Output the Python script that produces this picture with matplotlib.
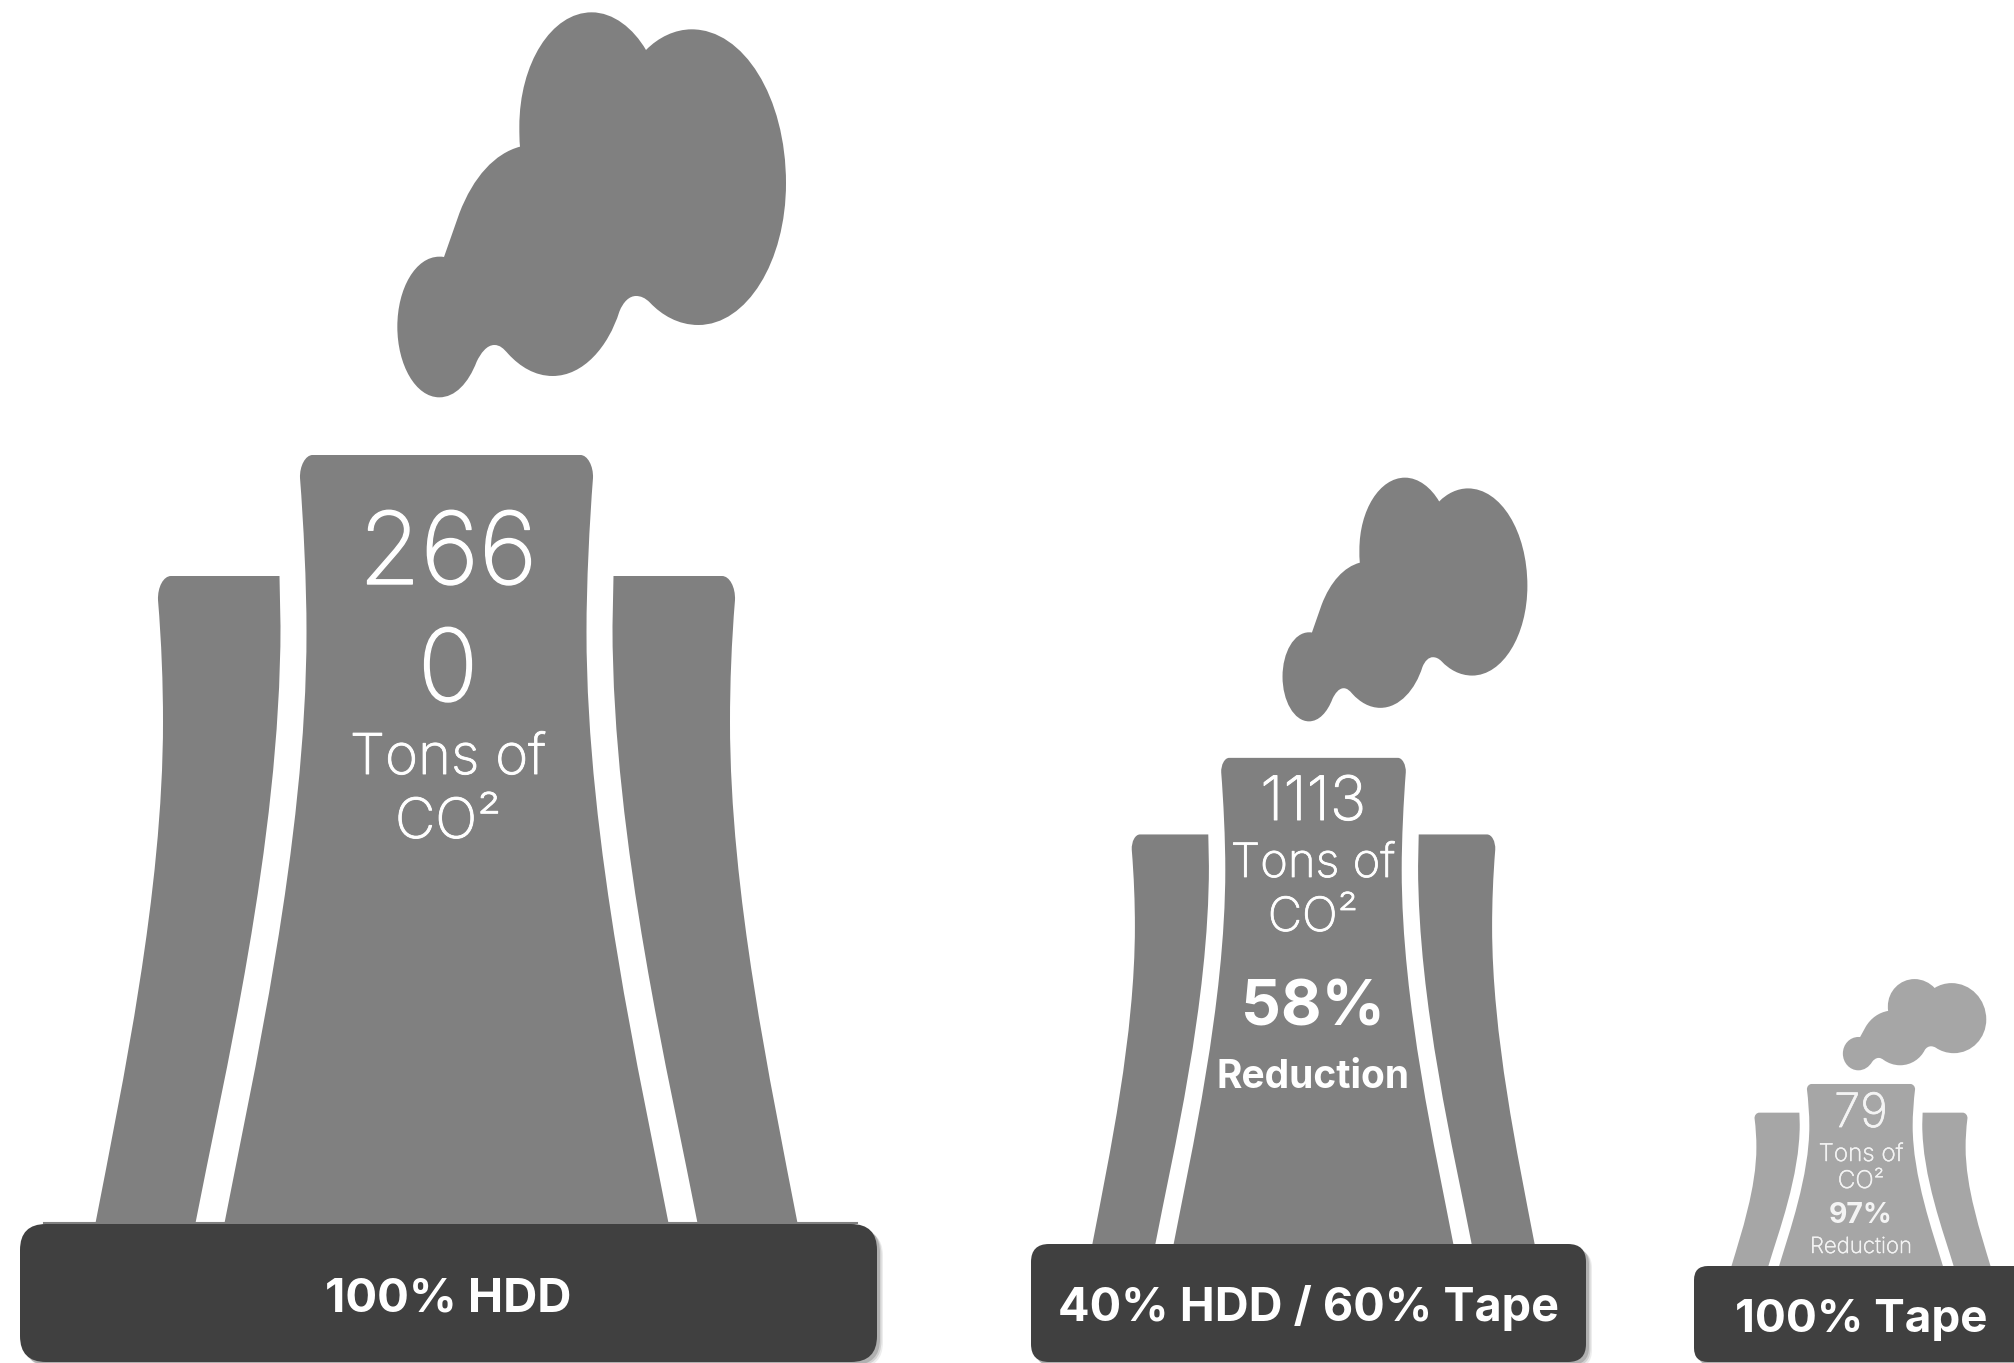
import matplotlib
matplotlib.use('Agg')
import matplotlib.pyplot as plt
import matplotlib.patheffects as pe
from matplotlib.path import Path
from matplotlib.patches import PathPatch, FancyBboxPatch

plt.rcParams['font.family'] = ['Inter', 'DejaVu Sans']

# data
scenarios = ['100% HDD', '40% HDD / 60% Tape', '100% Tape']
co2_tons = ['266\n0', '1113', '79']
reductions = [None, '58%', '97%']

# icon placement: centre x, ground y, x scale, y scale
centers = [446.5, 1313.5, 1861]
grounds = [1223, 1244, 1266]
x_scales = [1.0, 0.63, 0.369]
y_scales = [1.0, 0.633, 0.237]
tower_colors = ['#808080', '#808080', '#a6a6a6']
text_colors = ['white', 'white', '#f4f4f4']

# base plates: left, right, top, corner radius
plates = [(20, 877, 1224, 26), (1031, 1586, 1244, 18), (1694, 2060, 1266, 14)]
plate_bottom = 1362
plate_color = '#404040'

# tower outlines, half widths and heights above the ground
C = Path.CURVE4
middle_half = [(-134, 768), (-141, 768), (-147, 757), (-146.5, 745),
               (-143, 700), (-140, 640), (-140, 591),
               (-140, 380), (-195, 140), (-222, 0),
               (222, 0), (195, 140), (140, 380), (140, 591),
               (140, 640), (143, 700), (146.5, 745),
               (147, 757), (141, 768), (134, 768), (-134, 768)]
middle_codes = [Path.MOVETO] + [C] * 9 + [Path.LINETO] + [C] * 9 + [Path.LINETO]

wing = [(167, 647), (275.5, 647), (283, 647), (289, 636), (288.5, 623),
        (285, 580), (283.5, 540), (283.5, 501),
        (283.5, 330), (324, 140), (351, 0),
        (251, 0), (224, 140), (166, 380), (166, 597), (167, 647)]
wing_codes = [Path.MOVETO, Path.LINETO] + [C] * 9 + [Path.LINETO] + [C] * 3 + [Path.LINETO]

# smoke outline, relative to the top left of its box
smoke_start = (828, 150)
smoke_curves = [(865, 112), (915, 88), (965, 88),
                (1120, 88), (1248, 290), (1248, 550),
                (1248, 785), (1130, 975), (985, 975),
                (925, 975), (875, 945), (840, 908),
                (825, 893), (812, 888), (798, 888),
                (778, 888), (760, 905), (748, 935),
                (715, 1040), (640, 1128), (548, 1128),
                (495, 1128), (450, 1100), (415, 1062),
                (400, 1045), (390, 1035), (373, 1035),
                (350, 1035), (332, 1060), (320, 1085),
                (295, 1150), (255, 1192), (208, 1192),
                (137, 1192), (82, 1095), (82, 980),
                (82, 865), (137, 770), (208, 770),
                (213, 770), (217, 770), (222, 771),
                (237, 727), (253, 684), (268, 640),
                (310, 530), (375, 460), (450, 440),
                (448, 420), (448, 400), (448, 380),
                (448, 190), (545, 37), (665, 37),
                (730, 37), (790, 85), (828, 150)]


def placed(points, i):
    return [(centers[i] + x * x_scales[i], grounds[i] - y * y_scales[i]) for x, y in points]


def smoke_points():
    # smoke is traced at 3x, shift into the same frame as the towers
    pts = [smoke_start] + smoke_curves
    return [(370 + x / 3 - centers[0], grounds[0] - y / 3) for x, y in pts]


fig = plt.figure(figsize=(20.14, 13.63), dpi=100)
ax = fig.add_axes([0, 0, 1, 1])
ax.set_xlim(0, 2014)
ax.set_ylim(1363, 0)
ax.axis('off')

for i in range(3):
    col = tower_colors[i]
    ax.add_patch(PathPatch(Path(placed(middle_half, i), middle_codes), fc=col, ec='none', zorder=2))
    ax.add_patch(PathPatch(Path(placed(wing, i), wing_codes), fc=col, ec='none', zorder=2))
    mirrored = [(-x, y) for x, y in wing]
    ax.add_patch(PathPatch(Path(placed(mirrored, i), wing_codes), fc=col, ec='none', zorder=2))
    sm = smoke_points()
    ax.add_patch(PathPatch(Path(placed(sm, i), [Path.MOVETO] + [C] * (len(sm) - 1)),
                           fc=col, ec='none', zorder=2))

# ground line behind the big plate
ax.plot([44, 857], [1223, 1223], color='#808080', lw=1.5, zorder=1)

for left, right, top, rad in plates:
    box = 'round,pad=0,rounding_size=%d' % rad
    w, h = right - left, plate_bottom - top
    # soft shadow, a few stacked offsets
    for off, alpha in [(6, 0.07), (4.5, 0.11), (3, 0.16)]:
        ax.add_patch(FancyBboxPatch((left + off, top + off), w, h, boxstyle=box,
                                    fc='black', ec='none', alpha=alpha, zorder=3))
    ax.add_patch(FancyBboxPatch((left, top), w, h, boxstyle=box, fc=plate_color, ec='none', zorder=4))


def label(x, y, s, size, weight, color='white'):
    t = ax.text(x, y, s, ha='center', va='baseline', fontsize=size, fontweight=weight,
                color=color, zorder=5)
    if weight == 'light':
        # Inter Light runs thinner than wanted, thicken the strokes a little
        t.set_path_effects([pe.withStroke(linewidth=size * 0.012 + 0.15, foreground=color)])


# plate captions
caption_x = [448, 1308.5, 1861]
caption_y = [1312, 1321, 1332]
caption_size = [34, 33.7, 33]
for i in range(3):
    label(caption_x[i], caption_y[i], scenarios[i], caption_size[i], 'bold')

# big tower
big_lines = co2_tons[0].split('\n')
label(448, 584, big_lines[0], 72, 'light')
label(448, 701, big_lines[1], 72, 'light')
label(448, 774, 'Tons of', 40.5, 'light')
label(448, 838, 'CO²', 40, 'light')

# middle tower
label(1313, 820, co2_tons[1], 44, 'light')
label(1313, 877, 'Tons of', 34, 'light')
label(1313, 931, 'CO²', 34, 'light')
label(1313, 1025, reductions[1], 45, 'bold')
label(1313, 1088, 'Reduction', 28, 'bold')

# small tower
c = text_colors[2]
label(1861, 1127, co2_tons[2], 34, 'light', c)
label(1861, 1161, 'Tons of', 17.5, 'light', c)
label(1861, 1188, 'CO²', 17.5, 'light', c)
label(1861, 1223, reductions[2], 20.5, 'bold', c)
label(1861, 1253, 'Reduction', 16, 'light', c)

fig.savefig('out.png', dpi=100, facecolor='white')
